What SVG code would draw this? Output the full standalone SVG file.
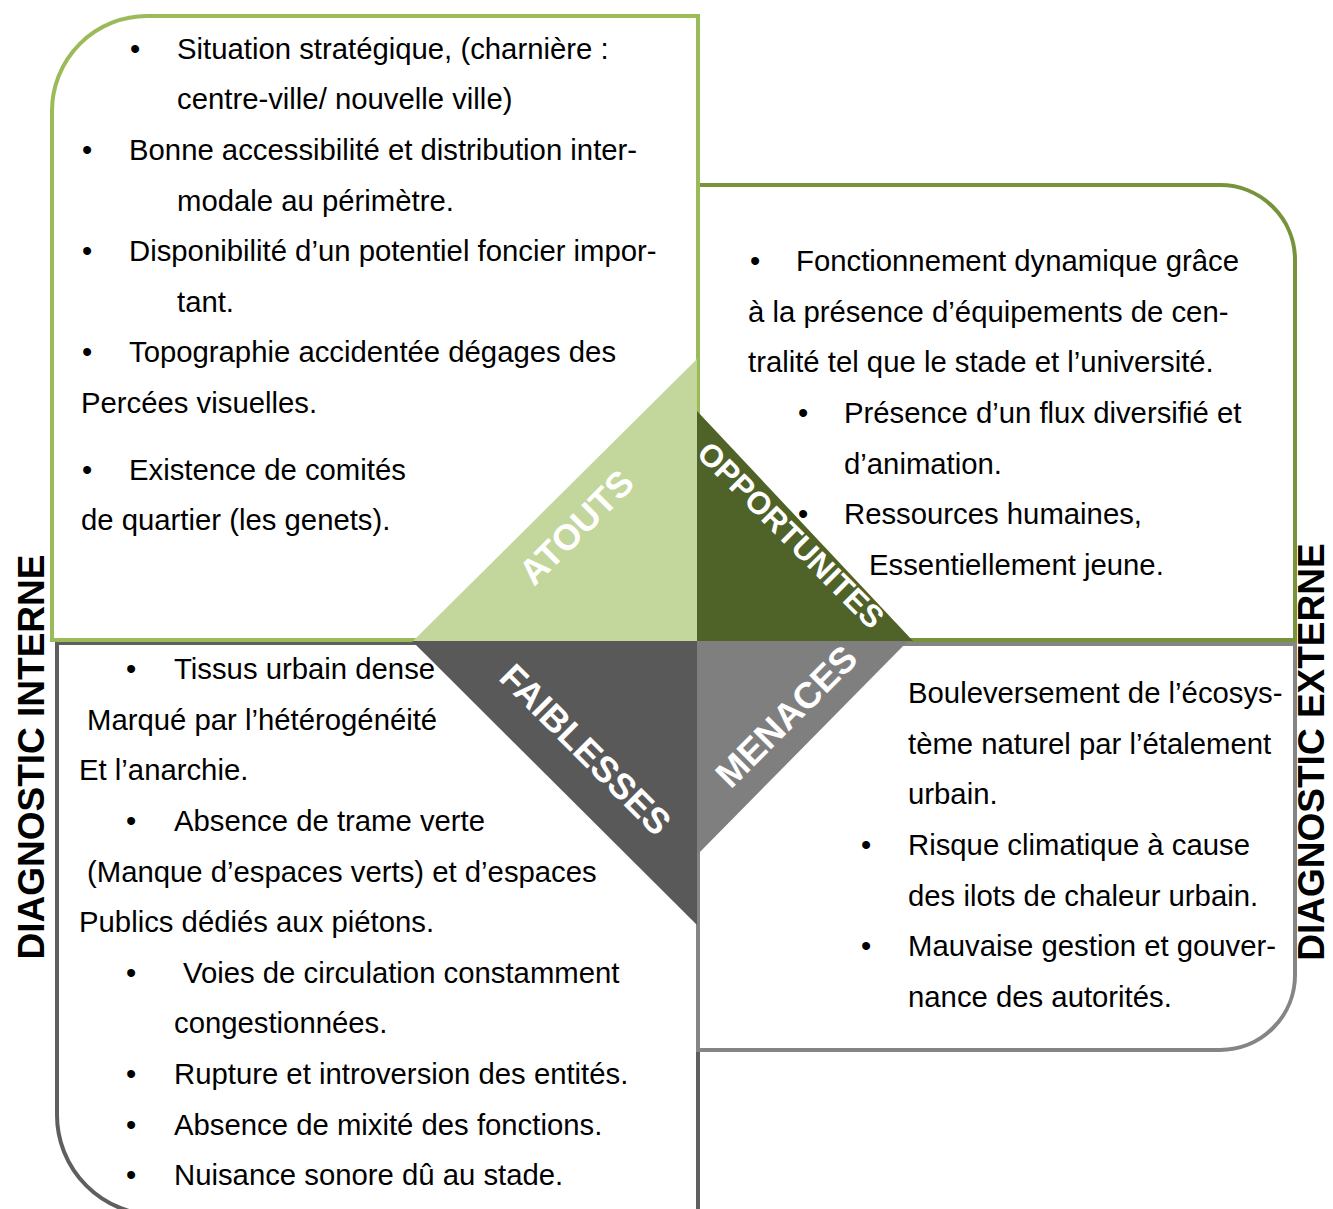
<svg xmlns="http://www.w3.org/2000/svg" width="1333" height="1209" viewBox="0 0 1333 1209">
<style>
.box{fill:#ffffff;stroke-width:4}
.t{font-family:"Liberation Sans",Arial,sans-serif;font-size:29.3px;fill:#000}
.lbl{font-family:"Liberation Sans",Arial,sans-serif;font-weight:bold;fill:#ffffff;text-anchor:middle}
.side{font-family:"Liberation Sans",Arial,sans-serif;font-weight:bold;font-size:37px;fill:#000;text-anchor:middle}
</style>
<rect width="1333" height="1209" fill="#ffffff"/>
<g id="box-faiblesses">
<path class="box" stroke="#5f5f5f" d="M57,643 L698,643 L698,1215 L157,1215 A100,100 0 0 1 57,1115 Z"/>
</g>
<g id="box-menaces">
<path class="box" stroke="#858585" d="M698,644 L1295,644 L1295,975 A75,75 0 0 1 1220,1050 L698,1050 Z"/>
</g>
<g id="box-opportunites">
<path class="box" stroke="#77933C" stroke-width="5" d="M698,185 L1220,185 A75,75 0 0 1 1295,260 L1295,640 L698,640 Z"/>
</g>
<g id="box-atouts">
<path class="box" stroke="#9BBB59" d="M52,111 A95,95 0 0 1 147,16 L698,16 L698,640 L52,640 Z"/>
</g>
<g id="connectors"></g>
<g id="tri-atouts">
<polygon points="697,359 697,641 413,641" fill="#C3D69B"/>
<text class="lbl" font-size="36" transform="translate(576,527) rotate(-45)" y="13">ATOUTS</text>
</g>
<g id="tri-opportunites">
<polygon points="697,411 697,641 913,641" fill="#4F6228"/>
<text class="lbl" font-size="31.5" transform="translate(791,535) rotate(45)" y="11">OPPORTUNITES</text>
</g>
<g id="tri-faiblesses">
<polygon points="412,641 697,641 697,925" fill="#595959"/>
<text class="lbl" font-size="36" transform="translate(586,749) rotate(45)" y="13">FAIBLESSES</text>
</g>
<g id="tri-menaces">
<polygon points="697,641 908,641 697,855" fill="#7F7F7F"/>
<text class="lbl" font-size="36.5" transform="translate(786,716) rotate(-45)" y="13">MENACES</text>
</g>
<g id="text-atouts" class="t">
<text x="130" y="59">•</text><text x="177" y="59">Situation stratégique, (charnière :</text>
<text x="177" y="109">centre-ville/ nouvelle ville)</text>
<text x="82" y="160">•</text><text x="129" y="160">Bonne accessibilité et distribution inter-</text>
<text x="177" y="211">modale au périmètre.</text>
<text x="82" y="261">•</text><text x="129" y="261">Disponibilité d’un potentiel foncier impor-</text>
<text x="177" y="312">tant.</text>
<text x="82" y="362">•</text><text x="129" y="362">Topographie accidentée dégages des</text>
<text x="81" y="413">Percées visuelles.</text>
<text x="82" y="480">•</text><text x="129" y="480">Existence de comités</text>
<text x="81" y="530">de quartier (les genets).</text>
</g>
<g id="text-opportunites" class="t">
<text x="750" y="271">•</text><text x="796" y="271">Fonctionnement dynamique grâce</text>
<text x="748" y="322">à la présence d’équipements de cen-</text>
<text x="748" y="372">tralité tel que le stade et l’université.</text>
<text x="798" y="423">•</text><text x="844" y="423">Présence d’un flux diversifié et</text>
<text x="844" y="474">d’animation.</text>
<text x="798" y="524">•</text><text x="844" y="524">Ressources humaines,</text>
<text x="869" y="575">Essentiellement jeune.</text>
</g>
<g id="text-faiblesses" class="t">
<text x="126" y="679">•</text><text x="174" y="679">Tissus urbain dense</text>
<text x="87" y="730">Marqué par l’hétérogénéité</text>
<text x="79" y="780">Et l’anarchie.</text>
<text x="126" y="831">•</text><text x="174" y="831">Absence de trame verte</text>
<text x="87" y="882">(Manque d’espaces verts) et d’espaces</text>
<text x="79" y="932">Publics dédiés aux piétons.</text>
<text x="126" y="983">•</text><text x="183" y="983">Voies de circulation constamment</text>
<text x="174" y="1033">congestionnées.</text>
<text x="126" y="1084">•</text><text x="174" y="1084">Rupture et introversion des entités.</text>
<text x="126" y="1135">•</text><text x="174" y="1135">Absence de mixité des fonctions.</text>
<text x="126" y="1185">•</text><text x="174" y="1185">Nuisance sonore dû au stade.</text>
</g>
<g id="text-menaces" class="t">
<text x="908" y="703">Bouleversement de l’écosys-</text>
<text x="908" y="754">tème naturel par l’étalement</text>
<text x="908" y="804">urbain.</text>
<text x="861" y="855">•</text><text x="908" y="855">Risque climatique à cause</text>
<text x="908" y="906">des ilots de chaleur urbain.</text>
<text x="861" y="956">•</text><text x="908" y="956">Mauvaise gestion et gouver-</text>
<text x="908" y="1007">nance des autorités.</text>
</g>
<g id="label-interne">
<text class="side" transform="translate(44,757) rotate(-90)">DIAGNOSTIC INTERNE</text>
</g>
<g id="label-externe">
<text class="side" font-size="36" transform="translate(1324,752) rotate(-90)">DIAGNOSTIC EXTERNE</text>
</g>
</svg>
